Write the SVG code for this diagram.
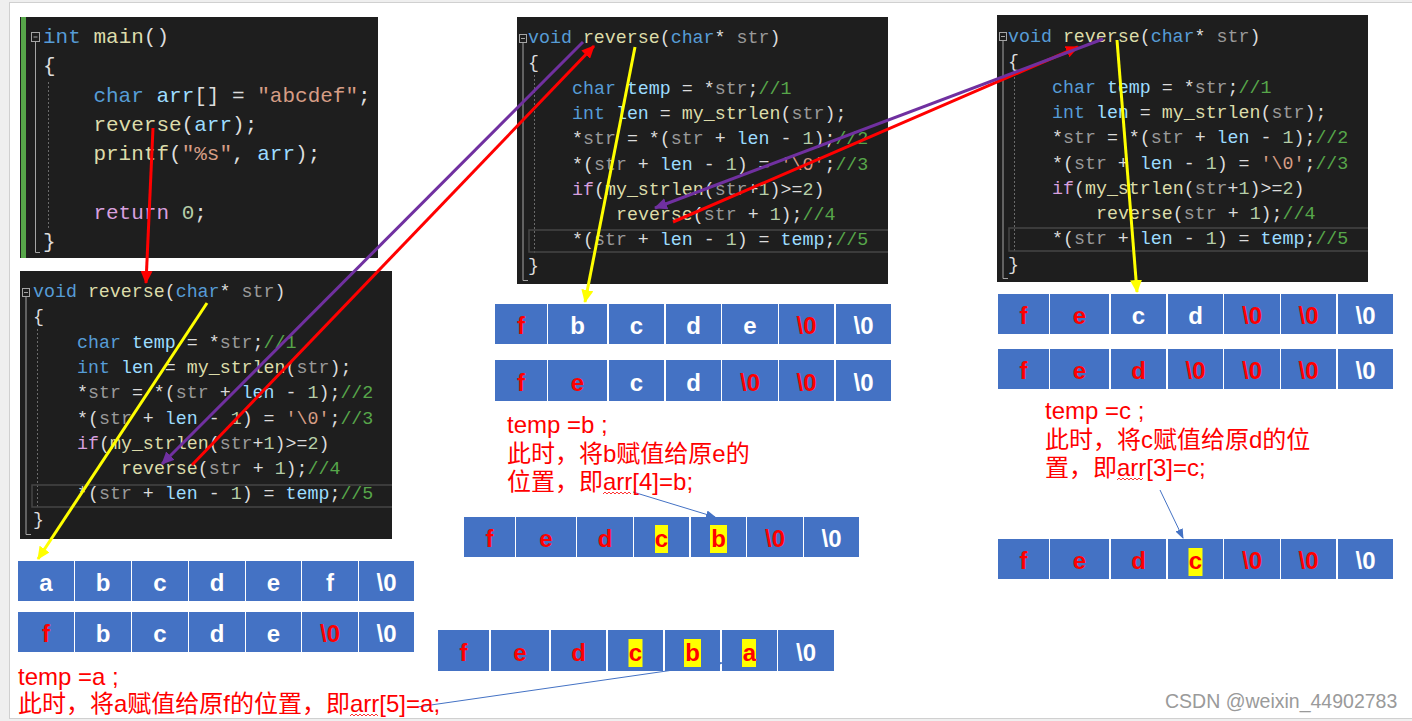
<svg xmlns="http://www.w3.org/2000/svg" width="1412" height="721" viewBox="0 0 1412 721">
<style>
.code{font-family:"Liberation Mono","DejaVu Sans Mono",monospace;font-size:18.3px;fill:#dcdcdc;white-space:pre}
.big{font-size:21px}
.kw{fill:#569cd6}.fn{fill:#dcdcaa}.pm{fill:#9a9a9a}.lv{fill:#9cdcfe}.cm{fill:#57a64a}.nm{fill:#b5cea8}.st{fill:#d69d85}.ct{fill:#d8a0df}
.bg{fill:#1e1e1e}
.gut{stroke:#a5a5a5;stroke-width:1;fill:none}
.guide{stroke:#6a6a6a;stroke-width:1;stroke-dasharray:2 2;fill:none}
.hl{fill:none;stroke:#464646;stroke-width:1.5}
.cell{fill:#4472c4}
.ct1{font-family:"Liberation Sans",Arial,sans-serif;font-size:24px;font-weight:bold;text-anchor:middle;fill:#ffffff}
.r{fill:#ff0000}
.yh{fill:#ffff00}
.lbl{font-family:"Liberation Sans","Noto Sans CJK SC",sans-serif;font-size:24px;fill:#ff0000}
.wavy{fill:none;stroke:#ff0000;stroke-width:0.8}
.ln{fill:none;stroke-width:3}
.thin{fill:none;stroke:#4472c4;stroke-width:1}
</style>
<defs>
<marker id="mr" markerUnits="userSpaceOnUse" markerWidth="14" markerHeight="12" refX="12" refY="6" orient="auto"><path d="M0,0 L13,6 L0,12 Z" fill="#ff0000"/></marker>
<marker id="mp" markerUnits="userSpaceOnUse" markerWidth="14" markerHeight="12" refX="12" refY="6" orient="auto"><path d="M0,0 L13,6 L0,12 Z" fill="#7030a0"/></marker>
<marker id="my" markerUnits="userSpaceOnUse" markerWidth="14" markerHeight="12" refX="12" refY="6" orient="auto"><path d="M0,0 L13,6 L0,12 Z" fill="#ffff00"/></marker>
<marker id="mb" markerUnits="userSpaceOnUse" markerWidth="10" markerHeight="8" refX="9" refY="4" orient="auto"><path d="M0,0 L10,4 L0,8 Z" fill="#4472c4"/></marker>
</defs>
<rect x="0" y="0" width="1412" height="721" fill="#efefef"/>
<rect x="9.5" y="2.5" width="1410" height="716" fill="#ffffff" stroke="#d0d0d0" stroke-width="1"/>

<!-- main() code box -->
<g id="code-main">
<rect class="bg" x="20" y="17" width="358" height="241"/>
<rect x="21" y="17" width="5" height="241" fill="#57a64a"/>
<rect x="31.5" y="32.5" width="8" height="9" fill="none" stroke="#a5a5a5"/>
<line x1="33.5" y1="37" x2="37.5" y2="37" stroke="#a5a5a5"/>
<path class="gut" d="M35.5,42 V252.5 H40"/>
<line class="guide" x1="48.5" y1="82" x2="48.5" y2="230"/>
<text class="code big" xml:space="preserve"><tspan x="43" y="43"><tspan class="kw">int</tspan> <tspan class="fn">main</tspan>()</tspan><tspan x="43" y="72.3">{</tspan><tspan x="93.4" y="101.6"><tspan class="kw">char</tspan> <tspan class="lv">arr</tspan>[] = <tspan class="st">"abcdef"</tspan>;</tspan><tspan x="93.4" y="130.9"><tspan class="fn">reverse</tspan>(<tspan class="lv">arr</tspan>);</tspan><tspan x="93.4" y="160.2"><tspan class="fn">printf</tspan>(<tspan class="st">"%s"</tspan>, <tspan class="lv">arr</tspan>);</tspan><tspan x="93.4" y="218.8"><tspan class="ct">return</tspan> <tspan class="nm">0</tspan>;</tspan><tspan x="43" y="248.1">}</tspan></text>
</g>

<!-- reverse code boxes -->
<g id="code-reverse-1" transform="translate(20,271)">
<rect class="bg" x="0" y="0" width="372" height="268"/>
<rect x="2.5" y="17.5" width="7" height="8" fill="none" stroke="#a5a5a5"/>
<line x1="4" y1="21.5" x2="8" y2="21.5" stroke="#a5a5a5"/>
<path class="gut" d="M6,26 V263.5 H11"/>
<line class="guide" x1="17.5" y1="58" x2="17.5" y2="236"/>
<path class="hl" d="M372,214 H12 V236 H372"/>
<text class="code" xml:space="preserve"><tspan x="13" y="26"><tspan class="kw">void</tspan> <tspan class="fn">reverse</tspan>(<tspan class="kw">char</tspan>* <tspan class="pm">str</tspan>)</tspan><tspan x="13" y="51.3">{</tspan><tspan x="57" y="76.6"><tspan class="kw">char</tspan> <tspan class="lv">temp</tspan> = *<tspan class="pm">str</tspan>;<tspan class="cm">//1</tspan></tspan><tspan x="57" y="101.9"><tspan class="kw">int</tspan> <tspan class="lv">len</tspan> = <tspan class="fn">my_strlen</tspan>(<tspan class="pm">str</tspan>);</tspan><tspan x="57" y="127.2">*<tspan class="pm">str</tspan> = *(<tspan class="pm">str</tspan> + <tspan class="lv">len</tspan> - <tspan class="nm">1</tspan>);<tspan class="cm">//2</tspan></tspan><tspan x="57" y="152.5">*(<tspan class="pm">str</tspan> + <tspan class="lv">len</tspan> - <tspan class="nm">1</tspan>) = <tspan class="st">'\0'</tspan>;<tspan class="cm">//3</tspan></tspan><tspan x="57" y="177.8"><tspan class="ct">if</tspan>(<tspan class="fn">my_strlen</tspan>(<tspan class="pm">str</tspan>+<tspan class="nm">1</tspan>)&gt;=<tspan class="nm">2</tspan>)</tspan><tspan x="101" y="203.1"><tspan class="fn">reverse</tspan>(<tspan class="pm">str</tspan> + <tspan class="nm">1</tspan>);<tspan class="cm">//4</tspan></tspan><tspan x="57" y="228.4">*(<tspan class="pm">str</tspan> + <tspan class="lv">len</tspan> - <tspan class="nm">1</tspan>) = <tspan class="lv">temp</tspan>;<tspan class="cm">//5</tspan></tspan><tspan x="13" y="253.7">}</tspan></text>
</g>

<g id="code-reverse-2" transform="translate(517,17)">
<rect class="bg" x="0" y="0" width="371" height="267"/>
<rect x="2.5" y="17.5" width="7" height="8" fill="none" stroke="#a5a5a5"/>
<line x1="4" y1="21.5" x2="8" y2="21.5" stroke="#a5a5a5"/>
<path class="gut" d="M6,26 V263.5 H11"/>
<line class="guide" x1="17.5" y1="58" x2="17.5" y2="236"/>
<path class="hl" d="M371,213 H12 V235 H371"/>
<text class="code" xml:space="preserve"><tspan x="11" y="26"><tspan class="kw">void</tspan> <tspan class="fn">reverse</tspan>(<tspan class="kw">char</tspan>* <tspan class="pm">str</tspan>)</tspan><tspan x="11" y="51.3">{</tspan><tspan x="55" y="76.6"><tspan class="kw">char</tspan> <tspan class="lv">temp</tspan> = *<tspan class="pm">str</tspan>;<tspan class="cm">//1</tspan></tspan><tspan x="55" y="101.9"><tspan class="kw">int</tspan> <tspan class="lv">len</tspan> = <tspan class="fn">my_strlen</tspan>(<tspan class="pm">str</tspan>);</tspan><tspan x="55" y="127.2">*<tspan class="pm">str</tspan> = *(<tspan class="pm">str</tspan> + <tspan class="lv">len</tspan> - <tspan class="nm">1</tspan>);<tspan class="cm">//2</tspan></tspan><tspan x="55" y="152.5">*(<tspan class="pm">str</tspan> + <tspan class="lv">len</tspan> - <tspan class="nm">1</tspan>) = <tspan class="st">'\0'</tspan>;<tspan class="cm">//3</tspan></tspan><tspan x="55" y="177.8"><tspan class="ct">if</tspan>(<tspan class="fn">my_strlen</tspan>(<tspan class="pm">str</tspan>+<tspan class="nm">1</tspan>)&gt;=<tspan class="nm">2</tspan>)</tspan><tspan x="99" y="203.1"><tspan class="fn">reverse</tspan>(<tspan class="pm">str</tspan> + <tspan class="nm">1</tspan>);<tspan class="cm">//4</tspan></tspan><tspan x="55" y="228.4">*(<tspan class="pm">str</tspan> + <tspan class="lv">len</tspan> - <tspan class="nm">1</tspan>) = <tspan class="lv">temp</tspan>;<tspan class="cm">//5</tspan></tspan><tspan x="11" y="253.7">}</tspan></text>
</g>

<g id="code-reverse-3" transform="translate(997,15)">
<rect class="bg" x="0" y="0" width="371" height="267"/>
<rect x="2.5" y="17.5" width="7" height="8" fill="none" stroke="#a5a5a5"/>
<line x1="4" y1="21.5" x2="8" y2="21.5" stroke="#a5a5a5"/>
<path class="gut" d="M6,26 V263.5 H11"/>
<line class="guide" x1="17.5" y1="58" x2="17.5" y2="236"/>
<path class="hl" d="M371,213 H12 V236 H371"/>
<text class="code" xml:space="preserve"><tspan x="11" y="27"><tspan class="kw">void</tspan> <tspan class="fn">reverse</tspan>(<tspan class="kw">char</tspan>* <tspan class="pm">str</tspan>)</tspan><tspan x="11" y="52.3">{</tspan><tspan x="55" y="77.6"><tspan class="kw">char</tspan> <tspan class="lv">temp</tspan> = *<tspan class="pm">str</tspan>;<tspan class="cm">//1</tspan></tspan><tspan x="55" y="102.9"><tspan class="kw">int</tspan> <tspan class="lv">len</tspan> = <tspan class="fn">my_strlen</tspan>(<tspan class="pm">str</tspan>);</tspan><tspan x="55" y="128.2">*<tspan class="pm">str</tspan> = *(<tspan class="pm">str</tspan> + <tspan class="lv">len</tspan> - <tspan class="nm">1</tspan>);<tspan class="cm">//2</tspan></tspan><tspan x="55" y="153.5">*(<tspan class="pm">str</tspan> + <tspan class="lv">len</tspan> - <tspan class="nm">1</tspan>) = <tspan class="st">'\0'</tspan>;<tspan class="cm">//3</tspan></tspan><tspan x="55" y="178.8"><tspan class="ct">if</tspan>(<tspan class="fn">my_strlen</tspan>(<tspan class="pm">str</tspan>+<tspan class="nm">1</tspan>)&gt;=<tspan class="nm">2</tspan>)</tspan><tspan x="99" y="204.1"><tspan class="fn">reverse</tspan>(<tspan class="pm">str</tspan> + <tspan class="nm">1</tspan>);<tspan class="cm">//4</tspan></tspan><tspan x="55" y="229.4">*(<tspan class="pm">str</tspan> + <tspan class="lv">len</tspan> - <tspan class="nm">1</tspan>) = <tspan class="lv">temp</tspan>;<tspan class="cm">//5</tspan></tspan><tspan x="11" y="254.7">}</tspan></text>
</g>

<!-- connectors -->
<g id="connectors">
<line class="ln" stroke="#ff0000" x1="153" y1="128" x2="146" y2="283" marker-end="url(#mr)"/>
<line class="ln" stroke="#ffff00" x1="207" y1="303" x2="38" y2="559" marker-end="url(#my)"/>
<line class="ln" stroke="#7030a0" x1="583" y1="42" x2="162" y2="464" marker-end="url(#mp)"/>
<line class="ln" stroke="#ff0000" x1="192" y1="465" x2="594" y2="46" marker-end="url(#mr)"/>
<line class="ln" stroke="#ffff00" x1="635" y1="47" x2="585" y2="302" marker-end="url(#my)"/>
<line class="ln" stroke="#ff0000" x1="673" y1="222" x2="1078" y2="47" marker-end="url(#mr)"/>
<line class="ln" stroke="#7030a0" x1="1103" y1="39" x2="655" y2="208" marker-end="url(#mp)"/>
<line class="ln" stroke="#ffff00" x1="1117" y1="40" x2="1137" y2="292" marker-end="url(#my)"/>
<line class="thin" x1="633" y1="492" x2="715" y2="517" marker-end="url(#mb)"/>
<line class="thin" x1="1160" y1="490" x2="1183" y2="538" marker-end="url(#mb)"/>
<line class="thin" x1="417" y1="707" x2="722" y2="663" marker-end="url(#mb)"/>
</g>

<!-- arrays -->
<g id="array-a1">
<rect class="cell" x="18" y="561" width="56" height="40"/><rect class="cell" x="75" y="561" width="56" height="40"/><rect class="cell" x="132" y="561" width="56" height="40"/><rect class="cell" x="189" y="561" width="56" height="40"/><rect class="cell" x="246" y="561" width="55" height="40"/><rect class="cell" x="302" y="561" width="56" height="40"/><rect class="cell" x="359" y="561" width="55" height="40"/>
<text class="ct1" y="591"><tspan x="46">a</tspan><tspan x="103">b</tspan><tspan x="160">c</tspan><tspan x="217">d</tspan><tspan x="273.5">e</tspan><tspan x="330">f</tspan><tspan x="386.5">\0</tspan></text>
</g>
<g id="array-a2">
<rect class="cell" x="18" y="612" width="56" height="40"/><rect class="cell" x="75" y="612" width="56" height="40"/><rect class="cell" x="132" y="612" width="56" height="40"/><rect class="cell" x="189" y="612" width="56" height="40"/><rect class="cell" x="246" y="612" width="55" height="40"/><rect class="cell" x="302" y="612" width="56" height="40"/><rect class="cell" x="359" y="612" width="55" height="40"/>
<text class="ct1" y="642"><tspan x="46" class="r">f</tspan><tspan x="103">b</tspan><tspan x="160">c</tspan><tspan x="217">d</tspan><tspan x="273.5">e</tspan><tspan x="330" class="r">\0</tspan><tspan x="386.5">\0</tspan></text>
</g>
<g id="array-b1">
<rect class="cell" x="495" y="304" width="52" height="40"/><rect class="cell" x="548" y="304" width="59" height="40"/><rect class="cell" x="609" y="304" width="55" height="40"/><rect class="cell" x="666" y="304" width="55" height="40"/><rect class="cell" x="722" y="304" width="56" height="40"/><rect class="cell" x="779" y="304" width="55" height="40"/><rect class="cell" x="836" y="304" width="55" height="40"/>
<text class="ct1" y="334"><tspan x="521" class="r">f</tspan><tspan x="577.5">b</tspan><tspan x="636.5">c</tspan><tspan x="693.5">d</tspan><tspan x="750">e</tspan><tspan x="806.5" class="r">\0</tspan><tspan x="863.5">\0</tspan></text>
</g>
<g id="array-b2">
<rect class="cell" x="495" y="360" width="52" height="41"/><rect class="cell" x="548" y="360" width="59" height="41"/><rect class="cell" x="609" y="360" width="55" height="41"/><rect class="cell" x="666" y="360" width="55" height="41"/><rect class="cell" x="722" y="360" width="56" height="41"/><rect class="cell" x="779" y="360" width="55" height="41"/><rect class="cell" x="836" y="360" width="55" height="41"/>
<text class="ct1" y="391"><tspan x="521" class="r">f</tspan><tspan x="577.5" class="r">e</tspan><tspan x="636.5">c</tspan><tspan x="693.5">d</tspan><tspan x="750" class="r">\0</tspan><tspan x="806.5" class="r">\0</tspan><tspan x="863.5">\0</tspan></text>
</g>
<g id="array-b3">
<rect class="cell" x="464" y="517" width="51" height="40"/><rect class="cell" x="516" y="517" width="60" height="40"/><rect class="cell" x="577" y="517" width="56" height="40"/><rect class="cell" x="634" y="517" width="55" height="40"/><rect class="cell" x="691" y="517" width="55" height="40"/><rect class="cell" x="747" y="517" width="56" height="40"/><rect class="cell" x="804" y="517" width="55" height="40"/>
<rect class="yh" x="655" y="525" width="13" height="28"/><rect class="yh" x="710" y="525" width="17" height="28"/>
<text class="ct1" y="547"><tspan x="489.5" class="r">f</tspan><tspan x="546" class="r">e</tspan><tspan x="605" class="r">d</tspan><tspan x="661.5" class="r">c</tspan><tspan x="718.5" class="r">b</tspan><tspan x="775" class="r">\0</tspan><tspan x="831.5">\0</tspan></text>
</g>
<g id="array-b4">
<rect class="cell" x="438" y="630" width="51" height="41"/><rect class="cell" x="491" y="630" width="58" height="41"/><rect class="cell" x="551" y="630" width="55" height="41"/><rect class="cell" x="608" y="630" width="55" height="41"/><rect class="cell" x="665" y="630" width="55" height="41"/><rect class="cell" x="722" y="630" width="55" height="41"/><rect class="cell" x="778" y="630" width="56" height="41"/>
<rect class="yh" x="628.5" y="639" width="14" height="28"/><rect class="yh" x="684" y="639" width="17" height="28"/><rect class="yh" x="742" y="639" width="14" height="28"/>
<text class="ct1" y="661"><tspan x="463.5" class="r">f</tspan><tspan x="520" class="r">e</tspan><tspan x="578.5" class="r">d</tspan><tspan x="635.5" class="r">c</tspan><tspan x="692.5" class="r">b</tspan><tspan x="749.5" class="r">a</tspan><tspan x="806">\0</tspan></text>
</g>
<g id="array-c1">
<rect class="cell" x="998" y="294" width="51" height="40"/><rect class="cell" x="1050" y="294" width="59" height="40"/><rect class="cell" x="1111" y="294" width="55" height="40"/><rect class="cell" x="1168" y="294" width="55" height="40"/><rect class="cell" x="1224" y="294" width="56" height="40"/><rect class="cell" x="1281" y="294" width="55" height="40"/><rect class="cell" x="1338" y="294" width="55" height="40"/>
<text class="ct1" y="324"><tspan x="1023.5" class="r">f</tspan><tspan x="1079.5" class="r">e</tspan><tspan x="1138.5">c</tspan><tspan x="1195.5">d</tspan><tspan x="1252" class="r">\0</tspan><tspan x="1308.5" class="r">\0</tspan><tspan x="1365.5">\0</tspan></text>
</g>
<g id="array-c2">
<rect class="cell" x="998" y="349" width="51" height="40"/><rect class="cell" x="1050" y="349" width="59" height="40"/><rect class="cell" x="1111" y="349" width="55" height="40"/><rect class="cell" x="1168" y="349" width="55" height="40"/><rect class="cell" x="1224" y="349" width="56" height="40"/><rect class="cell" x="1281" y="349" width="55" height="40"/><rect class="cell" x="1338" y="349" width="55" height="40"/>
<text class="ct1" y="379"><tspan x="1023.5" class="r">f</tspan><tspan x="1079.5" class="r">e</tspan><tspan x="1138.5" class="r">d</tspan><tspan x="1195.5" class="r">\0</tspan><tspan x="1252" class="r">\0</tspan><tspan x="1308.5" class="r">\0</tspan><tspan x="1365.5">\0</tspan></text>
</g>
<g id="array-c3">
<rect class="cell" x="998" y="539" width="51" height="40"/><rect class="cell" x="1050" y="539" width="59" height="40"/><rect class="cell" x="1111" y="539" width="55" height="40"/><rect class="cell" x="1168" y="539" width="55" height="40"/><rect class="cell" x="1224" y="539" width="56" height="40"/><rect class="cell" x="1281" y="539" width="55" height="40"/><rect class="cell" x="1338" y="539" width="55" height="40"/>
<rect class="yh" x="1188.5" y="548" width="14" height="28"/>
<text class="ct1" y="569"><tspan x="1023.5" class="r">f</tspan><tspan x="1079.5" class="r">e</tspan><tspan x="1138.5" class="r">d</tspan><tspan x="1195.5" class="r">c</tspan><tspan x="1252" class="r">\0</tspan><tspan x="1308.5" class="r">\0</tspan><tspan x="1365.5">\0</tspan></text>
</g>

<!-- labels -->
<g id="label-a">
<text class="lbl"><tspan x="18" y="685">temp =a ;</tspan><tspan x="18" y="712">此时，将a赋值给原f的位置，即arr[5]=a;</tspan></text>
<path class="wavy" d="M350,716 l2,-2 l2,2 l2,-2 l2,2 l2,-2 l2,2 l2,-2 l2,2 l2,-2 l2,2 l2,-2 l2,2 l2,-2 l2,2"/>
</g>
<g id="label-b">
<text class="lbl"><tspan x="507" y="433">temp =b ;</tspan><tspan x="507" y="462">此时，将b赋值给原e的</tspan><tspan x="507" y="490">位置，即arr[4]=b;</tspan></text>
<path class="wavy" d="M603,494 l2,-2 l2,2 l2,-2 l2,2 l2,-2 l2,2 l2,-2 l2,2 l2,-2 l2,2 l2,-2 l2,2 l2,-2 l2,2"/>
</g>
<g id="label-c">
<text class="lbl"><tspan x="1045" y="419">temp =c ;</tspan><tspan x="1045" y="448">此时，将c赋值给原d的位</tspan><tspan x="1045" y="476">置，即arr[3]=c;</tspan></text>
<path class="wavy" d="M1117,480 l2,-2 l2,2 l2,-2 l2,2 l2,-2 l2,2 l2,-2 l2,2 l2,-2 l2,2 l2,-2 l2,2 l2,-2"/>
</g>
<g id="watermark">
<text x="1165" y="708" font-family="Liberation Sans, Arial, sans-serif" font-size="19.5" fill="#9a9a9a">CSDN @weixin_44902783</text>
</g>
</svg>
